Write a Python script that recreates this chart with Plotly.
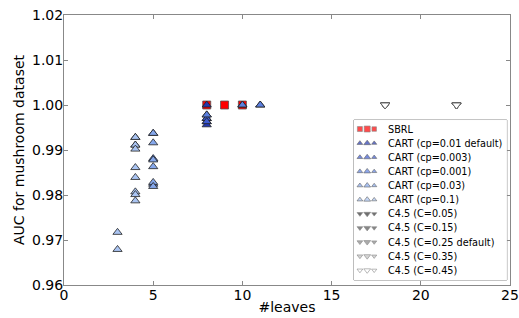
import plotly.graph_objects as go

# ---- data ----
sbrl_x = [8, 9, 10]
sbrl_y = [1.0, 1.0, 1.0]

cart_names = ["CART (cp=0.01 default)", "CART (cp=0.003)", "CART (cp=0.001)",
              "CART (cp=0.03)", "CART (cp=0.1)"]
cart_x = [
    [5, 8, 8, 8, 8, 8],
    [8, 8, 10, 11],
    [8, 10, 11, 5, 5],
    [4, 4, 5, 5, 5, 5, 5, 5],
    [3, 3, 4, 4, 4, 4, 4, 4, 4, 4],
]
cart_y = [
    [0.9937, 1.0, 0.9978, 0.9970, 0.9963, 0.9956],
    [0.9970, 0.9963, 1.0, 1.0],
    [0.9978, 1.0, 1.0, 0.9881, 0.9824],
    [0.9928, 0.9911, 0.9937, 0.9916, 0.9878, 0.9863, 0.9828, 0.9819],
    [0.9717, 0.9679, 0.9928, 0.9911, 0.9902, 0.9861, 0.9839, 0.9807, 0.9801, 0.9787],
]

c45_names = ["C4.5 (C=0.05)", "C4.5 (C=0.15)", "C4.5 (C=0.25 default)",
             "C4.5 (C=0.35)", "C4.5 (C=0.45)"]
c45_x = [[18, 22], [18, 22], [18, 22], [18, 22], [18, 22]]
c45_y = [[1.0, 1.0], [1.0, 1.0], [1.0, 1.0], [1.0, 1.0], [1.0, 1.0]]

x_ticks = [0, 5, 10, 15, 20, 25]
y_ticks = [0.96, 0.97, 0.98, 0.99, 1.00, 1.01, 1.02]

# ---- styles ----
cart_colors = ["#2438b0", "#3d5ad0", "#5c80e0", "#86a8ec", "#aac4f2"]
c45_colors = ["#333333", "#555555", "#888888", "#c4c4c4", "#ffffff"]

series = [("SBRL", sbrl_x, sbrl_y, "square", "#ff0000", "#555555")]
for n, xs, ys, c in zip(cart_names, cart_x, cart_y, cart_colors):
    series.append((n, xs, ys, "triangle-up", c, "#222222"))
for n, xs, ys, c in zip(c45_names, c45_x, c45_y, c45_colors):
    series.append((n, xs, ys, "triangle-down", c, "#555555"))

fig = go.Figure()
for n, xs, ys, sym, c, lc in series:
    fig.add_trace(go.Scatter(x=xs, y=ys, mode="markers", name=n, showlegend=False,
                             marker=dict(symbol=sym, size=8, color=c,
                                         line=dict(color=lc, width=0.8))))

# ---- hand-drawn legend (matplotlib style, 3 scatter points per entry) ----
row_h = 14.13
glyph_x = [6, 13.3, 20.3]
glyph_sizes = [5, 6, 4.5]
for i, (n, xs, ys, sym, c, lc) in enumerate(series):
    yy = 9 + row_h * i
    fig.add_trace(go.Scatter(x=glyph_x, y=[yy] * 3, mode="markers", xaxis="x2", yaxis="y2",
                             showlegend=False, hoverinfo="skip",
                             marker=dict(symbol=sym, size=glyph_sizes, color=c,
                                         line=dict(color=lc, width=0.6))))
    fig.add_annotation(x=32, y=yy, xref="x2", yref="y2", text=n, showarrow=False,
                       xanchor="left", yanchor="middle",
                       font=dict(size=9.7, color="black", family="DejaVu Sans"))
fig.add_shape(type="rect", xref="x2 domain", yref="y2 domain", x0=0, x1=1, y0=0, y1=1,
              line=dict(color="#888888", width=1), fillcolor="white", layer="below")

axis_common = dict(showgrid=False, zeroline=False, showline=True, mirror="ticks",
                   linecolor="#888888", linewidth=1, ticks="inside", ticklen=4,
                   tickcolor="#888888", tickfont=dict(size=14, color="black"),
                   automargin=False, ticklabelstandoff=-3)

fig.update_layout(
    width=519, height=318,
    margin=dict(l=64, r=9, t=15, b=33),
    plot_bgcolor="white", paper_bgcolor="white",
    font=dict(family="DejaVu Sans", color="black"),
    xaxis=dict(range=[0, 25], tickvals=x_ticks, ticktext=[str(v) for v in x_ticks],
               title=dict(text="#leaves", font=dict(size=14), standoff=0),
               domain=[0, 1], **axis_common),
    yaxis=dict(range=[0.96, 1.02], tickvals=y_ticks,
               ticktext=["%.2f" % v for v in y_ticks],
               title=dict(text="AUC for mushroom dataset", font=dict(size=14), standoff=4),
               domain=[0, 1], **axis_common),
    xaxis2=dict(domain=[0.650, 0.993], range=[0, 153], visible=False, anchor="y2",
                fixedrange=True),
    yaxis2=dict(domain=[0.0185, 0.611], range=[160, 0], visible=False, anchor="x2",
                fixedrange=True),
)
fig.write_html("out.html", config={"displayModeBar": False},
               post_script="document.body.style.margin='0';document.body.style.overflow='hidden';")
